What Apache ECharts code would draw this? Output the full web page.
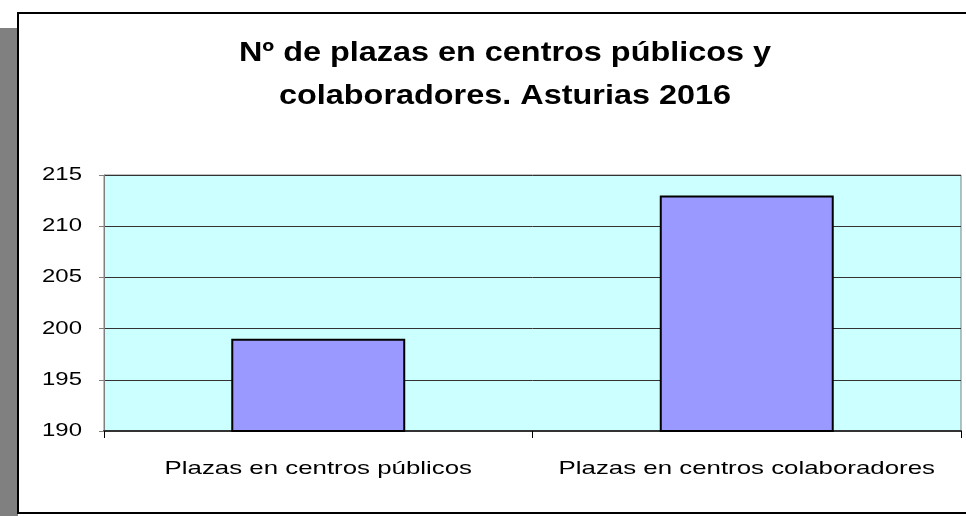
<!DOCTYPE html>
<html><head><meta charset="utf-8">
<script src="https://cdn.jsdelivr.net/npm/echarts@6/dist/echarts.min.js"></script>
<style>html,body{margin:0;padding:0;background:#fff}#c{width:966px;height:516px}</style>
</head><body><div id="c"></div>
<script>
const titleLines = ['Nº de plazas en centros públicos y', 'colaboradores. Asturias 2016'];
const categories = ['Plazas en centros públicos', 'Plazas en centros colaboradores'];
const values = [199, 213];
const yMin = 190, yMax = 215, yStep = 5;

const chart = echarts.init(document.getElementById('c'));
chart.setOption({
  animation: false,
  backgroundColor: '#fff',
  textStyle: { fontFamily: 'Liberation Sans, Arial, sans-serif' },
  graphic: [
    { type: 'rect', z: -10, shape: { x: 0, y: 28, width: 18, height: 488 }, style: { fill: '#808080' } },
    { type: 'rect', z: -9, shape: { x: 18, y: 13, width: 960, height: 500 }, style: { fill: '#fff', stroke: '#000', lineWidth: 2 } }
  ],
  title: {
    text: titleLines.join('\n'),
    left: 500, top: 27, textAlign: 'center',
    textStyle: { fontFamily: 'Liberation Sans, Arial, sans-serif', fontWeight: 'bold', fontSize: 27, lineHeight: 43, color: '#000' }
  },
  grid: { left: 104, right: 5, top: 175, bottom: 85, show: true, backgroundColor: '#CCFFFF', borderColor: '#808080', borderWidth: 1 },
  xAxis: {
    type: 'category', data: categories,
    axisLine: { lineStyle: { color: '#333', width: 2 } },
    axisTick: { show: true, length: 7, lineStyle: { color: '#000' } },
    axisLabel: { color: '#000', fontSize: 19, margin: 28 }
  },
  yAxis: {
    type: 'value', min: yMin, max: yMax, interval: yStep,
    axisLine: { show: true, lineStyle: { color: '#808080' } },
    axisTick: { show: true, length: 5, lineStyle: { color: '#808080' } },
    axisLabel: { color: '#000', fontSize: 18, margin: 22 },
    splitLine: { lineStyle: { color: '#333', width: 1 } }
  },
  series: [{
    type: 'bar', data: values, barWidth: '40.6%',
    itemStyle: { color: '#9999FF', borderColor: '#000', borderWidth: 2 }
  }]
});

// The reference text is horizontally wider than the font; widen the rendered labels about their anchors.
(function widen() {
  const zr = chart.getZr();
  const seen = [];
  function visit(el) {
    if (!el || seen.indexOf(el) >= 0) return;
    seen.push(el);
    if (el.type === 'text' && el.style && el.style.text != null) {
      const t = String(el.style.text);
      let s = 1;
      if (t.indexOf('Nº') === 0) s = 1.2;
      else if (categories.indexOf(t) >= 0) s = 1.36;
      else if (/^\d+$/.test(t)) s = 1.33;
      if (s !== 1) {
        el.originX = 0; el.originY = 0;
        el.scaleX = s;
        el.markRedraw();
      }
    }
    if (el.isGroup && el.childrenRef) el.childrenRef().forEach(visit);
    if (el.getTextContent && el.getTextContent()) visit(el.getTextContent());
  }
  zr.storage.getRoots().forEach(visit);
  zr.refreshImmediately();
})();
</script></body></html>
